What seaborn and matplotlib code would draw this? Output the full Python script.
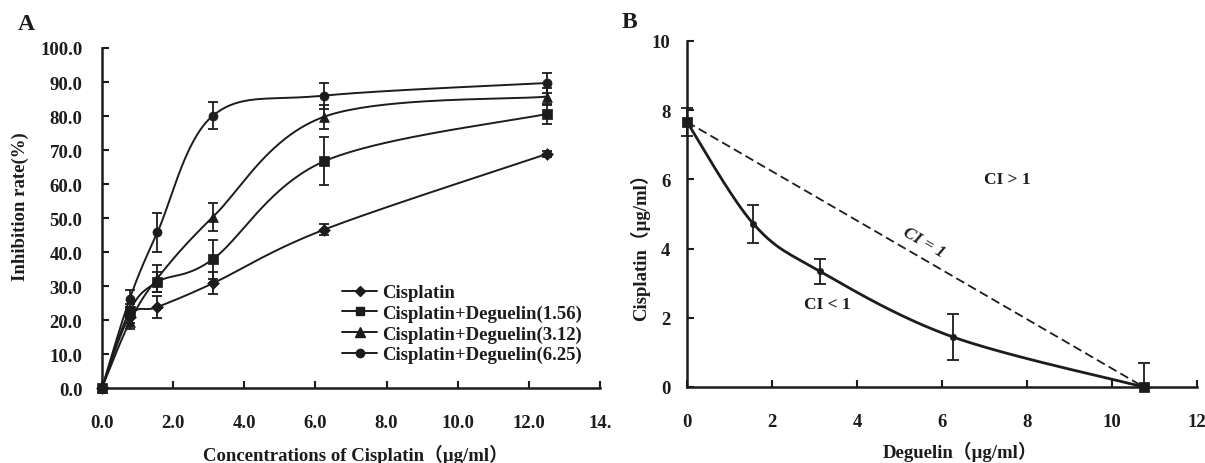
import numpy as np
import pandas as pd
import matplotlib
matplotlib.use("Agg")
import matplotlib.pyplot as plt
import seaborn as sns
from matplotlib.lines import Line2D

# ---- panel A: inhibition rate vs cisplatin concentration ----
conc = [0.0, 0.78, 1.56, 3.12, 6.25, 12.5]
cis_mean = [0.0, 21.0, 23.8, 30.8, 46.6, 68.8]
cis_err = [0.0, 2.0, 3.3, 3.2, 1.5, 1.0]
deg156_mean = [0.0, 22.7, 31.2, 37.9, 66.7, 80.6]
deg156_err = [0.0, 2.0, 3.0, 5.7, 7.0, 3.0]
deg312_mean = [0.0, 19.4, 32.3, 50.3, 79.8, 85.7]
deg312_err = [0.0, 2.0, 4.0, 4.0, 3.5, 2.5]
deg625_mean = [0.0, 26.2, 45.8, 80.1, 86.0, 89.7]
deg625_err = [0.0, 2.5, 5.8, 4.0, 3.8, 3.0]
series_names = ["Cisplatin", "Cisplatin+Deguelin(1.56)",
                "Cisplatin+Deguelin(3.12)", "Cisplatin+Deguelin(6.25)"]
a_xticks = [0, 2, 4, 6, 8, 10, 12, 14]
a_xticklabels = ["0.0", "2.0", "4.0", "6.0", "8.0", "10.0", "12.0", "14."]
a_yticks = [0, 10, 20, 30, 40, 50, 60, 70, 80, 90, 100]

# ---- panel B: isobologram ----
deg_dose = [0.0, 1.56, 3.12, 6.25, 10.75]
cis_dose = [7.66, 4.72, 3.35, 1.45, 0.0]
cis_err_low = [0.4, 0.57, 0.36, 0.66, 0.0]
cis_err_high = [0.4, 0.55, 0.36, 0.66, 0.7]
b_xticks = [0, 2, 4, 6, 8, 10, 12]
b_yticks = [0, 2, 4, 6, 8, 10]

INK = "#1c1c1c"
FS = 13.5


def smooth(x, y, n=40):
    """Excel-like smoothed line through the points (Catmull-Rom bezier)."""
    x = np.asarray(x, float)
    y = np.asarray(y, float)
    pts = np.column_stack([x, y])
    out = []
    t = np.linspace(0, 1, n)[:, None]
    for i in range(len(pts) - 1):
        p0 = pts[max(i - 1, 0)]
        p1 = pts[i]
        p2 = pts[i + 1]
        p3 = pts[min(i + 2, len(pts) - 1)]
        c1 = p1 + (p2 - p0) / 6.0
        c2 = p2 - (p3 - p1) / 6.0
        seg = ((1 - t) ** 3) * p1 + 3 * ((1 - t) ** 2) * t * c1 \
            + 3 * (1 - t) * t ** 2 * c2 + t ** 3 * p2
        out.append(seg if i == 0 else seg[1:])
    out = np.vstack(out)
    return out[:, 0], out[:, 1]


sns.set_theme(style="ticks")
plt.rcParams["font.family"] = ["Liberation Serif", "Noto Sans CJK SC"]
plt.rcParams["font.weight"] = "bold"
plt.rcParams["axes.labelweight"] = "bold"

fig = plt.figure(figsize=(12.05, 4.64), dpi=100)
ax_a = fig.add_axes([0.0846, 0.1616, 0.4133, 0.7328])
ax_b = fig.add_axes([0.5701, 0.1638, 0.4232, 0.7457])

# ---------------- panel A ----------------
means = [cis_mean, deg156_mean, deg312_mean, deg625_mean]
errs = [cis_err, deg156_err, deg312_err, deg625_err]
markers = ["D", "s", "^", "o"]
msizes = [6, 6.5, 7, 6.5]
handles = []
for name, m, e, mk, ms in zip(series_names, means, errs, markers, msizes):
    sx, sy = smooth(conc, m)
    sns.lineplot(x=sx, y=sy, sort=False, ax=ax_a, color=INK, lw=1.4,
                 estimator=None)
    ax_a.errorbar(conc, m, yerr=e, fmt="none", ecolor=INK, elinewidth=1.3,
                  capsize=3.5, capthick=1.3, clip_on=False)
    sns.scatterplot(x=conc, y=m, ax=ax_a, marker=mk, s=ms ** 2, color=INK,
                    edgecolor=INK, clip_on=False, zorder=5)
    handles.append(Line2D([], [], color=INK, lw=1.4, marker=mk,
                          markersize=ms - 0.5, label=name))

ax_a.set_xlim(0, 14)
ax_a.set_ylim(0, 100)
ax_a.set_xticks(a_xticks)
ax_a.set_xticklabels(a_xticklabels)
ax_a.set_yticks(a_yticks)
ax_a.yaxis.set_major_formatter(matplotlib.ticker.FormatStrFormatter("%.1f"))
ax_a.tick_params(axis="both", direction="in", length=5, width=1.5,
                 labelsize=FS, colors=INK)
ax_a.tick_params(axis="x", pad=19)
ax_a.tick_params(axis="y", pad=14)
ax_a.set_xlabel("Concentrations of Cisplatin（μg/ml）", fontsize=FS,
                color=INK, va="center")
ax_a.xaxis.set_label_coords(0.508, -0.194)
ax_a.set_ylabel("Inhibition rate(%)", fontsize=FS, color=INK, va="center")
ax_a.yaxis.set_label_coords(-0.163, 0.535)
leg = ax_a.legend(handles=handles, loc="upper left",
                  bbox_to_anchor=(0.483, 0.305), frameon=False,
                  borderaxespad=0, borderpad=0, handlelength=1.85,
                  handletextpad=0.25, labelspacing=0.18, fontsize=FS)
for t in leg.get_texts():
    t.set_color(INK)

# ---------------- panel B ----------------
bx, by = smooth(deg_dose, cis_dose)
sns.lineplot(x=bx, y=by, sort=False, ax=ax_b, color=INK, lw=2.0,
             estimator=None)
ax_b.errorbar(deg_dose, cis_dose, yerr=[cis_err_low, cis_err_high], fmt="none",
              ecolor=INK, elinewidth=1.3, capsize=4, capthick=1.3,
              clip_on=False)
# end points drawn as squares, intermediate points as small dots
sns.scatterplot(x=[deg_dose[0], deg_dose[-1]], y=[cis_dose[0], cis_dose[-1]],
                ax=ax_b, marker="s", s=45, color=INK, edgecolor=INK,
                clip_on=False, zorder=5)
sns.scatterplot(x=deg_dose[1:-1], y=cis_dose[1:-1], ax=ax_b, marker="o",
                s=22, color=INK, edgecolor=INK, clip_on=False, zorder=5)
# additivity line (CI = 1)
ax_b.plot([deg_dose[0], deg_dose[-1]], [cis_dose[0], cis_dose[-1]],
          color=INK, lw=1.3, ls=(0, (5, 2.5)))

ax_b.set_xlim(0, 12)
ax_b.set_ylim(0, 10)
ax_b.set_xticks(b_xticks)
ax_b.set_yticks(b_yticks)
ax_b.tick_params(axis="both", direction="in", length=5, width=1.5,
                 labelsize=FS, colors=INK)
ax_b.tick_params(axis="x", pad=19)
ax_b.tick_params(axis="y", pad=12)
ax_b.set_xlabel("Deguelin（μg/ml）", fontsize=FS, color=INK, va="center")
ax_b.xaxis.set_label_coords(0.535, -0.185)
ax_b.set_ylabel("Cisplatin（μg/ml）", fontsize=FS, color=INK, va="center")
ax_b.yaxis.set_label_coords(-0.092, 0.419)

ax_b.text(7.53, 6.02, "CI > 1", fontsize=12.5, color=INK, ha="center",
          va="center", fontweight="bold")
ax_b.text(3.31, 2.39, "CI < 1", fontsize=12.5, color=INK, ha="center",
          va="center", fontweight="bold")
ax_b.text(5.58, 4.2, "CI = 1", fontsize=12.5, color=INK, ha="center",
          va="center", rotation=-30, style="italic", fontweight="bold")

for ax in (ax_a, ax_b):
    sns.despine(ax=ax)
    for side in ("left", "bottom"):
        ax.spines[side].set_linewidth(1.8)
        ax.spines[side].set_color(INK)

fig.text(18 / 1205, 1 - 24 / 464, "A", fontsize=17, fontweight="bold",
         color=INK, va="center", ha="left")
fig.text(622 / 1205, 1 - 22 / 464, "B", fontsize=17, fontweight="bold",
         color=INK, va="center", ha="left")

fig.savefig("out.png", dpi=100)
